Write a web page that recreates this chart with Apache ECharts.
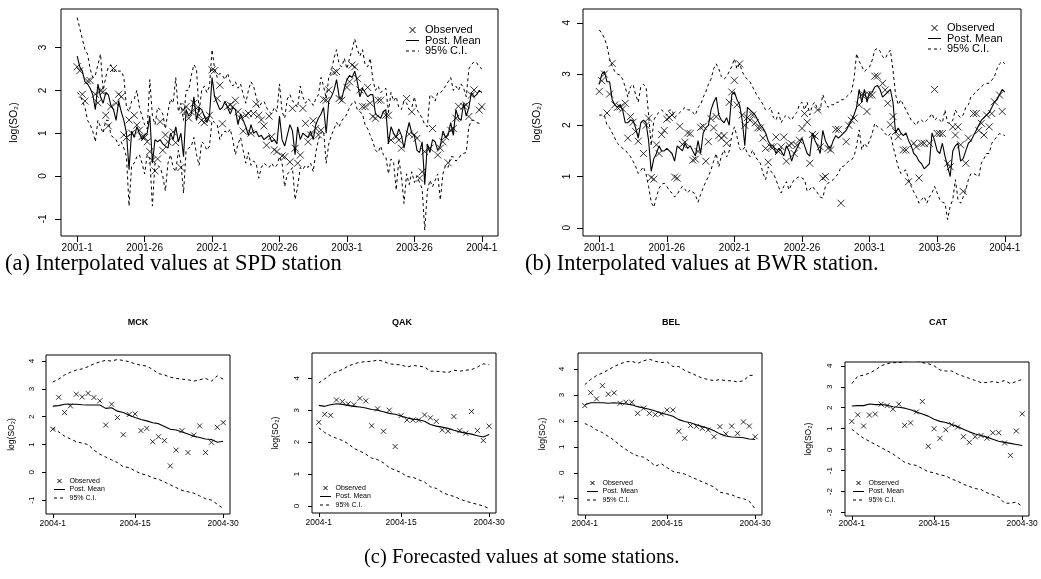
<!DOCTYPE html>
<html>
<head>
<meta charset="utf-8">
<script src="https://cdn.jsdelivr.net/npm/echarts@6/dist/echarts.min.js"></script>
<style>
  html, body { margin: 0; padding: 0; background: #fff; }
  #chart { width: 1041px; height: 579px; }
</style>
</head>
<body>
<div id="chart"></div>
<script>
// week axis ticks / labels
const topTicks = [0, 26, 52, 78, 104, 130, 156]
const topLabels = ['2001-1', '2001-26', '2002-1', '2002-26', '2003-1', '2003-26', '2004-1']
const bottomTicks = [0, 14, 29]
const bottomLabels = ['2004-1', '2004-15', '2004-30']
const legendNames = ['Observed', 'Post. Mean', '95% C.I.']

// (a) SPD station, weeks 2001-1 .. 2004-1
const spdMean = [
  2.8, 2.55, 2.45, 2.2, 2.15, 2.05, 1.9, 1.55, 2.15, 1.85,
  1.7, 1.95, 1.9, 1.65, 1.55, 1.3, 1.75, 1.5, 1.3, 1.0,
  0.15, 1.05, 0.9, 1.15, 1.0, 0.85, 0.95, 1.0, 1.4, 0.3,
  0.85, 0.8, 0.85, 0.75, 0.7, 0.65, 1.0, 0.85, 1.15, 0.8,
  1.0, 0.45, 1.55, 1.4, 1.45, 1.85, 1.3, 1.6, 1.55, 1.4,
  1.25, 1.4, 2.3, 1.85, 1.7, 1.55, 1.6, 1.75, 1.6, 1.45,
  1.6, 1.55, 1.2, 1.45, 1.3, 1.15, 0.95, 1.2, 1.0, 1.05,
  0.92, 0.95, 0.85, 0.9, 0.95, 0.8, 0.85, 0.75, 1.4, 0.85,
  0.7, 0.95, 1.2, 1.05, 0.5, 1.15, 0.85, 1.0, 0.95, 0.9,
  1.05, 0.85, 1.2, 1.35, 1.45, 1.6, 1.0, 1.75, 1.85, 2.0,
  2.25, 1.85, 1.8, 2.05, 2.25, 2.35, 2.3, 2.45, 2.2, 1.85,
  2.05, 1.95, 1.85, 1.9, 1.9, 1.45, 1.4, 1.35, 1.5, 1.55,
  0.75, 1.15, 1.0, 0.9, 1.1, 0.95, 0.65, 1.0, 1.25, 1.0,
  0.95, 0.6, 0.55, 0.8, -0.2, 0.75, 0.55, 0.85, 0.8, 0.6,
  0.7, 1.05, 0.9, 0.95, 1.25, 0.95, 1.55, 1.35, 1.3, 1.7,
  1.4, 1.6, 1.95, 1.85, 1.9, 2.0, 1.95
]
const spdUpper = [
  3.7, 3.45, 3.2, 2.95, 2.85, 2.5, 2.3, 2.35, 2.6, 2.85,
  2.0, 2.3, 2.55, 2.6, 2.4, 2.5, 2.45, 2.45, 2.3, 1.6,
  1.5, 1.75, 1.8, 2.0, 1.6, 1.4, 1.2, 1.1, 2.25, 1.4,
  1.2, 1.6, 1.55, 1.45, 1.1, 1.5, 1.8, 1.7, 2.3, 1.5,
  1.7, 1.3, 2.0, 2.0, 2.35, 2.6, 2.5, 1.5, 2.0, 2.1,
  1.95, 2.1, 2.95, 2.5, 2.3, 2.4, 2.35, 2.25, 2.4, 2.2,
  2.1, 2.2, 2.05, 2.15, 1.9, 1.7, 2.0, 2.2, 2.1, 1.85,
  1.6, 1.7, 1.75, 1.6, 1.5, 1.45, 1.6, 1.5, 2.15, 1.5,
  1.35, 1.8, 1.9, 1.75, 1.7, 1.6, 2.1, 1.85, 1.7, 1.8,
  1.75, 1.65, 1.8, 1.9, 2.3, 2.1, 1.8, 2.3, 2.45, 2.75,
  2.95, 2.6, 2.55, 2.75, 2.5, 2.75, 2.95, 3.2, 2.95, 2.8,
  2.95, 2.6, 2.55, 2.75, 2.25, 2.0, 2.1, 1.95, 2.0, 2.05,
  1.5, 1.95, 1.75, 1.85, 1.6, 1.55, 1.75, 1.7, 1.55, 1.6,
  1.85, 1.55, 1.45, 1.35, 1.2, 1.15, 1.9, 1.85, 1.75, 1.95,
  1.95, 2.0, 2.1, 2.2, 2.3, 2.0, 2.1, 2.0, 2.15, 2.05,
  1.85, 2.5, 2.6, 2.67, 2.65, 2.55, 2.5
]
const spdLower = [
  1.95, 1.9, 1.75, 1.6, 1.3, 1.2, 1.05, 0.8, 1.3, 1.15,
  1.0, 1.3, 1.3, 0.95, 0.9, 0.85, 0.7, 0.8, 0.65, 0.45,
  -0.7, 0.25, 0.3, 0.45, 0.5, 0.3, 0.05, 0.5, 0.4, -0.7,
  0.3, 0.25, 0.2, 0.0, -0.35, 0.3, 0.5, 0.2, 0.1, 0.6,
  0.3, -0.4, 0.6, 0.65, 0.7, 0.9, 0.5, 0.25, 0.8, 0.75,
  0.6, 0.7, 1.3, 1.25, 1.2, 0.85, 1.0, 1.05, 1.0, 1.1,
  0.85, 0.5, 0.75, 0.9, 0.6, 0.3, 0.55, 0.25, 0.35, 0.3,
  -0.05, 0.2, 0.3, 0.25, 0.2, 0.3, 0.2, 0.25, 0.45, 0.3,
  -0.25, 0.05, 0.1, 0.2, -0.55, -0.25, 0.2, 0.15, 0.25, 0.2,
  0.3, 0.1, 0.55, 0.85, 1.0, 1.05, 0.3, 0.75, 0.95, 1.1,
  1.25, 1.15, 1.3, 1.35, 1.45, 1.6, 1.7, 1.75, 1.55, 1.5,
  1.45, 1.2, 1.1, 0.95, 0.8, 0.6, 0.55, 0.7, 0.5, 0.45,
  0.05, 0.4, 0.3, -0.33, 0.4, 0.0, -0.64, 0.05, -0.2, 0.1,
  -0.15, 0.0, -0.15, -0.3, -1.26, -0.35, -0.1, -0.25, -0.1, 0.05,
  -0.56, 0.05, 0.25, 0.2, 0.45, 0.45, 0.35, 0.4, 0.5, 0.53,
  0.55, 1.15, 1.3, 1.3, 1.25, 1.23, 1.2
]
const spdObs = [
  2.55, 2.46, 1.91, 1.75, 2.22, 2.23, null, 1.91, 1.71, 1.99,
  1.97, 1.42, 1.17, 1.62, 2.51, 1.7, 1.91, 1.85, 0.96, 0.9,
  1.31, 1.0, 1.42, 1.19, 1.07, 0.92, 0.9, 0.8, 0.57, 0.37,
  0.12, 0.4, 1.27, 0.6, 0.96, 0.8, null, 1.03, 0.78, null,
  0.2, 1.54, 1.62, 1.35, 1.5, 1.7, 1.58, 1.42, 1.3, 1.25,
  1.35, 1.42, 2.48, 2.46, 1.81, 2.12, 1.22, null, 1.62, 1.66,
  1.62, 1.77, 1.5, 1.35, 1.05, 1.42, 1.46, 1.0, 1.46, 1.68,
  1.42, 1.31, 1.17, 0.72, 1.4, 0.92, 0.61, 0.57, null, 0.47,
  0.45, null, 0.33, 1.58, 0.65, 0.3, 0.49, 1.58, 1.23, 0.8,
  0.96, 1.29, 1.11, 0.96, 1.07, 1.79, 1.77, 2.01, null, 2.42,
  2.44, 1.81, 1.77, null, 2.07, 2.2, 2.59, 2.55, 2.28, 2.01,
  1.62, 1.62, 2.07, 1.7, 1.39, 1.35, 1.77, 1.77, null, 1.42,
  1.42, 0.84, null, 0.92, 0.84, 0.65, null, 1.81, 0.98, 1.5,
  0.96, 0.88, -0.05, 0.1, 0.57, null, 0.65, 1.11, null, 0.49,
  0.65, 0.8, 0.92, 0.31, 1.07, 1.11, 1.35, 1.63, null, 1.63,
  1.66, 1.39, 1.89, 2.01, null, 1.54, 1.62
]

// (b) BWR station
const bwrMean = [
  2.8, 3.0, 3.05, 2.85, 2.85, 2.5, 2.4, 2.35, 2.4, 2.3,
  2.05, 2.05, 2.1, 2.1, 1.95, 1.75, 2.05, 2.1, 2.05, 1.7,
  1.1, 1.35, 1.45, 1.6, 1.5, 1.5, 1.55, 1.5, 1.45, 1.3,
  1.6, 1.55, 1.5, 1.65, 1.55, 1.6, 1.5, 1.4, 1.7, 1.45,
  1.85, 1.95, 2.0, 2.3, 2.45, 2.55, 2.2, 2.1, 2.05, 2.15,
  2.0, 2.6, 2.65, 2.5, 2.4, 2.1, 1.6, 2.35, 2.3, 2.25,
  2.2, 2.1, 2.0, 1.95, 1.85, 1.7, 1.6, 1.6, 1.45, 1.55,
  1.5, 1.4, 1.6, 1.5, 1.3, 1.45, 1.55, 1.65, 1.75, 1.6,
  1.45, 1.4, 1.85, 1.7, 1.6, 1.45, 1.9, 1.7, 1.6, 1.55,
  1.7, 1.8, 1.75, 1.8, 1.85, 1.9, 2.0, 2.1, 2.2, 2.35,
  2.7, 2.45, 2.7, 2.45, 2.65, 2.65, 2.75, 2.78, 2.7, 2.55,
  2.6, 2.65, 2.7, 2.45, 1.85, 1.95, 1.85, 1.8, 1.85, 1.7,
  1.6, 1.45, 1.4, 1.3, 1.25, 1.15, 1.2, 1.25, 1.85, 1.7,
  1.5, 1.45, 1.65, 1.4, 1.2, 1.0, 1.5, 1.6, 1.65, 1.3,
  1.35, 1.5, 1.65, 1.7, 1.8, 1.9, 2.0, 2.1, 2.15, 2.2,
  2.25, 2.35, 2.45, 2.5, 2.6, 2.7, 2.65
]
const bwrUpper = [
  3.86, 3.8, 3.7, 3.55, 3.3, 3.15, 3.05, 3.0, 2.98, 2.9,
  2.75, 2.55, 2.75, 2.8, 2.6, 2.45, 2.75, 2.8, 2.75, 2.2,
  1.6, 2.1, 2.2, 2.25, 2.3, 2.25, 2.2, 2.3, 2.3, 2.15,
  2.2, 2.25, 2.3, 2.35, 2.3, 2.3, 2.25, 2.2, 2.35, 2.4,
  2.55, 2.65, 2.8, 2.9, 3.1, 3.2, 3.1, 2.95, 2.9, 2.95,
  3.05, 3.15, 3.3, 3.1, 3.2, 3.05, 2.95, 2.9, 2.85, 2.75,
  2.65, 2.55, 2.5, 2.4, 2.3, 2.3, 2.35, 2.15, 2.1, 2.25,
  2.05, 2.15, 2.2, 2.15, 2.1, 2.2, 2.25, 2.4, 2.45, 2.3,
  2.45, 2.2, 2.4, 2.45, 2.3, 2.3, 2.6, 2.45, 2.35, 2.4,
  2.4, 2.45, 2.45, 2.5, 2.5, 2.55, 2.6, 2.65, 2.9, 3.4,
  3.25, 3.15, 3.05, 3.1, 3.14, 3.27, 3.47, 3.5, 3.45, 3.34,
  3.3, 3.4, 3.47, 3.08, 2.6, 2.4, 2.5, 2.4, 2.3, 2.2,
  2.1, 2.05, 2.0, 2.1, 2.1, 2.05, 2.1, 2.15, 2.23, 2.1,
  2.15, 2.1, 2.05, 2.3, 2.05, 2.04, 2.1, 2.3, 2.2, 2.15,
  2.2, 2.35, 2.4, 2.56, 2.6, 2.67, 2.7, 2.75, 2.8, 2.82,
  2.82, 2.88, 2.95, 3.1, 3.2, 3.25, 3.2
]
const bwrLower = [
  2.2, 2.2, 2.2, 2.0, 1.95, 1.85, 1.75, 1.65, 1.6, 1.55,
  1.52, 1.45, 1.39, 1.3, 1.2, 1.06, 1.12, 1.19, 1.05, 0.8,
  0.5, 0.4, 0.6, 0.77, 0.85, 0.87, 0.81, 0.72, 0.68, 0.6,
  0.65, 0.74, 0.81, 0.75, 0.68, 0.74, 0.7, 0.64, 0.5, 0.65,
  0.78, 0.9, 1.0, 1.13, 1.3, 1.45, 1.19, 1.4, 1.52, 1.38,
  1.5, 1.8, 1.97, 1.78, 1.55, 1.5, 1.58, 1.45, 1.39, 1.52,
  1.4, 1.32, 1.26, 1.06, 0.94, 1.19, 1.1, 1.06, 0.94, 0.8,
  0.68, 0.81, 0.9, 0.74, 0.85, 0.94, 0.97, 1.0, 0.97, 0.94,
  0.71, 0.75, 0.81, 0.74, 0.68, 0.6, 0.58, 0.81, 0.87, 0.9,
  0.94, 1.0, 1.06, 1.19, 1.2, 1.26, 1.3, 1.32, 1.39, 1.6,
  1.91, 1.52, 1.65, 1.58, 1.7, 1.84, 2.04, 1.97, 1.95, 1.91,
  1.84, 1.78, 1.84, 1.6, 1.39, 1.19, 1.06, 1.1, 1.13, 0.94,
  0.81, 0.7, 0.61, 0.48, 0.55, 0.61, 0.48, 0.6, 0.68, 0.81,
  0.68, 0.55, 0.5, 0.48, 0.16, 0.42, 0.55, 0.94, 0.55, 0.48,
  0.6, 0.74, 0.94, 1.06, 1.06, 1.03, 1.0, 1.26, 1.35, 1.45,
  1.45, 1.65, 1.72, 1.78, 1.84, 1.82, 1.8
]
const bwrObs = [
  2.66, 2.87, 3.0, 2.24, 2.61, 3.21, 2.4, 2.35, 2.36, 2.32,
  2.43, 1.75, 2.17, 2.06, 1.88, 1.69, null, 1.45, 2.0, 2.14,
  0.98, 0.95, 1.62, 1.45, 1.82, 1.9, 2.12, 2.15, 2.2, 0.99,
  0.97, 1.98, 1.63, 1.67, 1.85, 1.84, 1.32, 1.34, 1.49, 1.96,
  1.98, 1.3, 1.68, 2.13, 1.95, 2.17, 1.8, 1.75, 1.8, 1.65,
  2.45, 2.65, 2.88, 2.4, 3.2, 2.2, 2.0, 2.15, 2.1, 2.2,
  2.05, 1.95, 1.95, 1.75, 1.55, 1.28, 1.58, 1.58, 1.77, 1.49,
  1.58, 1.77, 1.3, 1.61, 1.64, 1.45, 1.61, 1.71, 1.94, 2.23,
  2.06, 1.26, 1.82, 1.79, 2.3, 1.58, 0.97, 1.0, 1.55, 1.52,
  null, 1.92, 1.92, 0.48, null, 1.68, 2.0, 2.1, 2.14, null,
  2.4, 2.59, 2.59, 2.27, 2.59, 2.59, 2.96, 2.96, null, 2.82,
  2.69, 2.43, 2.01, 2.17, 1.88, 1.78, null, 1.52, 1.52, 0.9,
  null, 1.65, 1.58, 0.97, 1.65, 1.65, null, 1.65, null, 2.7,
  1.84, 1.84, 1.84, null, 1.26, 1.19, 1.97, 1.81, 1.97, 1.62,
  0.71, 1.26, 1.75, null, 2.23, 2.23, 1.9, 2.04, 1.81, 2.2,
  1.97, 2.23, 2.46, null, 2.59, 2.27, null
]

// (c) forecasts, weeks 2004-1 .. 2004-30
const mckObs = [1.55, 2.7, 2.15, 2.39, 2.81, 2.71, 2.84, 2.69, 2.57, 1.7, 2.45, 1.97, 1.35, 2.08, 2.1, 1.5, 1.58, 1.1, 1.28, 1.14, 0.23, 0.8, 1.5, 0.71, 1.34, 1.67, 0.71, 1.08, 1.62, 1.79]
const mckMean = [2.38, 2.4, 2.45, 2.45, 2.45, 2.43, 2.42, 2.42, 2.42, 2.3, 2.32, 2.2, 2.15, 2.05, 1.97, 1.9, 1.85, 1.78, 1.75, 1.65, 1.55, 1.52, 1.45, 1.38, 1.3, 1.25, 1.2, 1.18, 1.08, 1.12]
const mckUpper = [3.25, 3.35, 3.5, 3.6, 3.68, 3.72, 3.8, 3.9, 3.97, 4.03, 4.0, 4.06, 4.02, 3.98, 3.9, 3.85, 3.82, 3.7, 3.55, 3.5, 3.42, 3.38, 3.35, 3.33, 3.28, 3.33, 3.38, 3.28, 3.47, 3.35]
const mckLower = [1.6, 1.45, 1.3, 1.2, 1.1, 1.05, 1.0, 0.8, 0.65, 0.55, 0.45, 0.35, 0.2, 0.17, 0.05, -0.05, -0.1, -0.2, -0.25, -0.35, -0.45, -0.55, -0.65, -0.7, -0.75, -0.85, -0.95, -1.0, -1.15, -1.3]

const qakObs = [2.62, 2.87, 2.84, 3.32, 3.27, 3.2, 3.17, 3.37, 3.29, 2.51, 3.04, 2.34, 3.0, 1.86, 2.83, 2.69, 2.69, 2.69, 2.85, 2.76, 2.65, 2.38, 2.34, 2.8, 2.36, 2.28, 2.96, 2.36, 2.05, 2.5]
const qakMean = [3.15, 3.12, 3.17, 3.2, 3.18, 3.15, 3.12, 3.1, 3.07, 3.02, 3.0, 2.95, 2.9, 2.87, 2.82, 2.76, 2.72, 2.7, 2.65, 2.55, 2.5, 2.47, 2.43, 2.37, 2.32, 2.28, 2.25, 2.2, 2.16, 2.24]
const qakUpper = [3.85, 3.98, 4.12, 4.2, 4.27, 4.38, 4.45, 4.5, 4.52, 4.53, 4.57, 4.53, 4.45, 4.43, 4.42, 4.35, 4.4, 4.38, 4.35, 4.22, 4.22, 4.2, 4.18, 4.25, 4.22, 4.25, 4.27, 4.35, 4.45, 4.42]
const qakLower = [2.45, 2.3, 2.2, 2.12, 2.05, 1.95, 1.8, 1.72, 1.62, 1.5, 1.45, 1.35, 1.2, 1.12, 1.05, 0.92, 0.9, 0.82, 0.75, 0.6, 0.55, 0.43, 0.35, 0.3, 0.22, 0.15, 0.1, 0.05, 0.0, -0.08]

const belObs = [2.59, 3.09, 2.85, 3.36, 3.03, 3.08, 2.68, 2.72, 2.72, 2.29, 2.49, 2.29, 2.24, 2.27, 2.42, 2.42, 1.6, 1.33, 1.82, 1.79, 1.71, 1.65, 1.39, 1.78, 1.5, 1.8, 1.52, 1.96, 1.8, 1.39]
const belMean = [2.62, 2.7, 2.7, 2.7, 2.68, 2.7, 2.68, 2.65, 2.62, 2.55, 2.5, 2.45, 2.38, 2.3, 2.25, 2.18, 2.05, 1.98, 1.93, 1.85, 1.78, 1.72, 1.62, 1.5, 1.42, 1.38, 1.37, 1.35, 1.3, 1.28]
const belUpper = [3.4, 3.6, 3.75, 3.85, 3.97, 4.1, 4.2, 4.28, 4.3, 4.22, 4.32, 4.38, 4.3, 4.25, 4.28, 4.1, 4.1, 3.95, 3.85, 3.75, 3.65, 3.6, 3.55, 3.6, 3.55, 3.55, 3.5, 3.55, 3.75, 3.77]
const belLower = [1.9, 1.8, 1.65, 1.55, 1.4, 1.25, 1.05, 0.9, 0.75, 0.65, 0.6, 0.45, 0.25, 0.35, 0.2, 0.05, 0.0, -0.05, -0.15, -0.25, -0.35, -0.45, -0.55, -0.75, -0.8, -0.85, -0.95, -1.0, -1.1, -1.4]

const catObs = [1.35, 1.66, 1.13, 1.65, 1.7, 2.17, 2.1, 1.93, 2.17, 1.16, 1.28, 1.8, 2.3, 0.16, 1.0, 0.54, 0.95, 1.19, 1.08, 0.62, 0.35, 0.62, 0.68, 0.55, 0.81, 0.81, 0.32, -0.27, 0.89, 1.71]
const catMean = [2.08, 2.1, 2.1, 2.18, 2.15, 2.15, 2.12, 2.05, 2.02, 1.98, 1.9, 1.8, 1.7, 1.6, 1.45, 1.35, 1.3, 1.2, 1.1, 0.98, 0.85, 0.75, 0.68, 0.6, 0.5, 0.4, 0.35, 0.3, 0.25, 0.2]
const catUpper = [3.15, 3.5, 3.55, 3.65, 3.8, 4.0, 4.1, 4.15, 4.15, 4.2, 4.3, 4.25, 4.15, 4.1, 4.0, 3.8, 3.75, 3.75, 3.6, 3.5, 3.4, 3.3, 3.2, 3.2, 3.25, 3.2, 3.3, 3.15, 3.25, 3.35]
const catLower = [0.98, 0.75, 0.55, 0.4, 0.25, 0.1, -0.05, -0.2, -0.4, -0.6, -0.7, -0.75, -0.9, -1.05, -1.1, -1.2, -1.25, -1.4, -1.5, -1.65, -1.75, -1.85, -1.9, -2.05, -2.15, -2.25, -2.55, -2.55, -2.5, -2.7]

const sans = 'Liberation Sans, Arial, sans-serif'
const serif = 'Liberation Serif, Times New Roman, serif'
const cross = 'path://M0,0L10,10M10,0L0,10'

// layout of the six panels (pixels); leg = legend anchor [x, y of first row, row step]
const panels = [
  { mean: spdMean, upper: spdUpper, lower: spdLower, obs: spdObs, big: true,
    box: [61, 9, 437, 227], xr: [-6.24, 162.24], yr: [-1.4, 3.9], yTicks: [-1, 0, 1, 2, 3],
    lm: 13, ng: 41, xm: 7, leg: [406, 30, 10.5] },
  { mean: bwrMean, upper: bwrUpper, lower: bwrLower, obs: bwrObs, big: true,
    box: [583, 9, 438, 227], xr: [-6.24, 162.24], yr: [-0.16, 4.27], yTicks: [0, 1, 2, 3, 4],
    lm: 11, ng: 40, xm: 7, leg: [928, 28, 10.5] },
  { mean: mckMean, upper: mckUpper, lower: mckLower, obs: mckObs, big: false,
    box: [46, 355, 184, 159], xr: [-1.16, 30.16], yr: [-1.5, 4.22], yTicks: [-1, 0, 1, 2, 3, 4],
    lm: 10, ng: 30, xm: 5, leg: [54, 481, 8.5] },
  { mean: qakMean, upper: qakUpper, lower: qakLower, obs: qakObs, big: false,
    box: [312, 353, 184, 160], xr: [-1.16, 30.16], yr: [-0.22, 4.79], yTicks: [0, 1, 2, 3, 4],
    lm: 11, ng: 32, xm: 5, leg: [320, 488, 8.5] },
  { mean: belMean, upper: belUpper, lower: belLower, obs: belObs, big: false,
    box: [578, 353, 184, 162], xr: [-1.16, 30.16], yr: [-1.63, 4.62], yTicks: [-1, 0, 1, 2, 3, 4],
    lm: 12, ng: 31, xm: 4, leg: [587, 483, 8.5] },
  { mean: catMean, upper: catUpper, lower: catLower, obs: catObs, big: false,
    box: [845, 362, 184, 154], xr: [-1.16, 30.16], yr: [-3.16, 4.18], yTicks: [-3, -2, -1, 0, 1, 2, 3, 4],
    lm: 11, ng: 32, xm: 3, leg: [853, 483, 8.5] }
]

const toPairs = arr => arr.map((v, i) => [i, v]).filter(d => d[1] !== null)

const grid = [], xAxis = [], yAxis = [], series = [], graphic = []

// R-style legend: cross, solid line, dashed line, each followed by its label
function addLegend(p) {
  const [x0, y0, dy] = p.leg
  const w = p.big ? 13 : 11
  const c = p.big ? 3 : 2
  const fs = p.big ? 11 : 7
  const gap = p.big ? 6 : 4.5
  const stroke = { stroke: '#000', lineWidth: 1 }
  const cx = x0 + w / 2
  graphic.push(
    { type: 'line', silent: true, shape: { x1: cx - c, y1: y0 - c, x2: cx + c, y2: y0 + c }, style: stroke },
    { type: 'line', silent: true, shape: { x1: cx - c, y1: y0 + c, x2: cx + c, y2: y0 - c }, style: stroke },
    { type: 'line', silent: true, shape: { x1: x0, y1: y0 + dy, x2: x0 + w, y2: y0 + dy }, style: stroke },
    { type: 'line', silent: true, shape: { x1: x0, y1: y0 + 2 * dy, x2: x0 + w, y2: y0 + 2 * dy },
      style: { stroke: '#000', lineWidth: 1, lineDash: [3, 3] } }
  )
  legendNames.forEach((name, r) => {
    graphic.push({
      type: 'text', silent: true, x: x0 + w + gap, y: y0 + r * dy,
      style: { text: name, fill: '#000', font: fs + 'px ' + sans, textVerticalAlign: 'middle', verticalAlign: 'middle' }
    })
  })
}

panels.forEach((p, k) => {
  const ticks = p.big ? topTicks : bottomTicks
  const labels = p.big ? topLabels : bottomLabels
  const fs = p.big ? 10 : 8.5
  grid.push({
    left: p.box[0], top: p.box[1], width: p.box[2], height: p.box[3],
    show: true, borderColor: '#000', borderWidth: 1, backgroundColor: 'transparent'
  })
  xAxis.push({
    gridIndex: k, type: 'value', min: p.xr[0], max: p.xr[1],
    axisLine: { show: false, onZero: false },
    splitLine: { show: false },
    axisTick: { show: true, customValues: ticks, length: p.big ? 6 : 4, lineStyle: { color: '#000' } },
    axisLabel: {
      customValues: ticks, margin: p.xm, fontSize: fs, color: '#000', fontFamily: sans,
      formatter: v => labels[ticks.indexOf(v)]
    }
  })
  yAxis.push({
    gridIndex: k, type: 'value', min: p.yr[0], max: p.yr[1],
    name: 'log(SO₂)', nameLocation: 'middle', nameRotate: 90, nameGap: p.ng,
    nameTextStyle: { fontSize: p.big ? 10.5 : 8.5, color: '#000', fontFamily: sans },
    axisLine: { show: false, onZero: false },
    splitLine: { show: false },
    axisTick: { show: true, customValues: p.yTicks, length: p.big ? 6 : 4, lineStyle: { color: '#000' } },
    axisLabel: { customValues: p.yTicks, rotate: 90, margin: p.lm, fontSize: p.big ? 10 : 8, color: '#000', fontFamily: sans }
  })
  const dashed = { color: '#000', width: 1, type: [3, 3] }
  series.push(
    { name: '95% C.I.', type: 'line', xAxisIndex: k, yAxisIndex: k, data: toPairs(p.upper),
      symbol: 'none', lineStyle: dashed, itemStyle: { color: '#000' }, silent: true },
    { name: '95% C.I.', type: 'line', xAxisIndex: k, yAxisIndex: k, data: toPairs(p.lower),
      symbol: 'none', lineStyle: dashed, itemStyle: { color: '#000' }, silent: true },
    { name: 'Post. Mean', type: 'line', xAxisIndex: k, yAxisIndex: k, data: toPairs(p.mean),
      symbol: 'none', lineStyle: { color: '#000', width: 1.1 }, itemStyle: { color: '#000' }, silent: true },
    { name: 'Observed', type: 'scatter', xAxisIndex: k, yAxisIndex: k, data: toPairs(p.obs),
      symbol: cross, symbolSize: p.big ? 7 : 5,
      itemStyle: { color: 'rgba(0,0,0,0)', borderColor: '#000', borderWidth: 1 } }
  )
  addLegend(p)
})

const stationTitles = [
  { text: 'MCK', x: 138, y: 318 },
  { text: 'QAK', x: 402, y: 318 },
  { text: 'BEL', x: 671, y: 318 },
  { text: 'CAT', x: 938, y: 318 }
]
const captions = [
  { text: '(a) Interpolated values at SPD station', x: 5, y: 253, size: 22.5 },
  { text: '(b) Interpolated values at BWR station.', x: 525, y: 253, size: 22.5 },
  { text: '(c) Forecasted values at some stations.', x: 364, y: 547, size: 20.5 }
]

const title = [
  ...stationTitles.map(t => ({
    text: t.text, left: t.x, top: t.y, textAlign: 'center', padding: 0,
    textStyle: { fontSize: 9, fontWeight: 'bold', color: '#000', fontFamily: sans }
  })),
  ...captions.map(t => ({
    text: t.text, left: t.x, top: t.y, padding: 0,
    textStyle: { fontSize: t.size, fontWeight: 'normal', color: '#000', fontFamily: serif }
  }))
]

const chart = echarts.init(document.getElementById('chart'), null, { renderer: 'canvas' })
chart.setOption({
  animation: false,
  backgroundColor: '#fff',
  title, grid, xAxis, yAxis, series, graphic
})
</script>
</body>
</html>
